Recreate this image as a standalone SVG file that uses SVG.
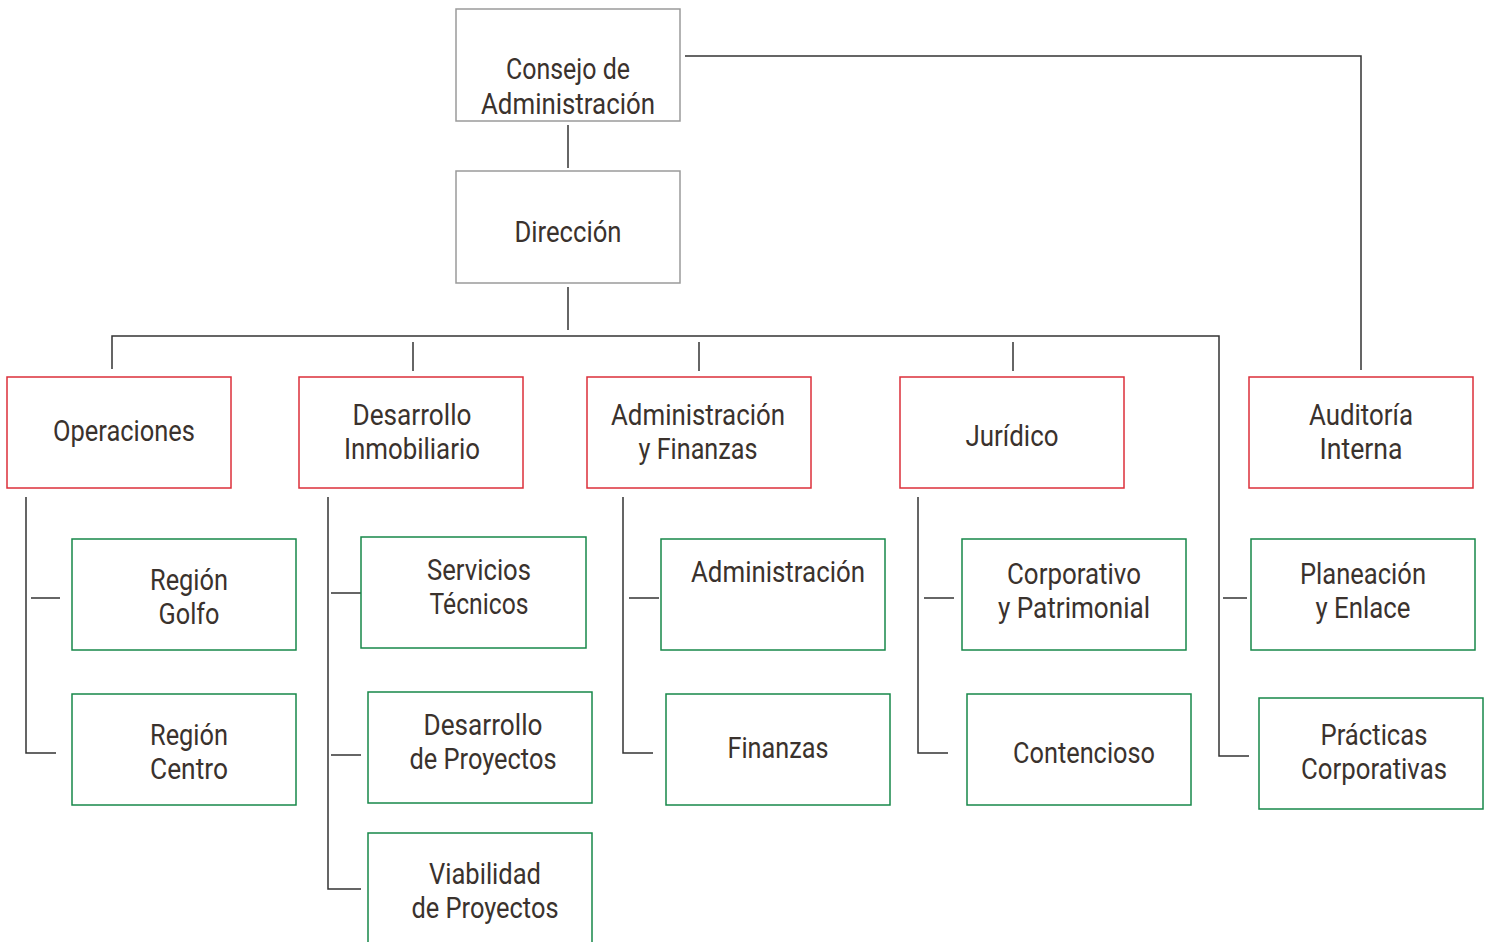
<svg xmlns="http://www.w3.org/2000/svg" width="1492" height="942" viewBox="0 0 1492 942">
<style>
.box{fill:#fff;stroke-width:1.5}
.g{stroke:#9a9a9a}
.r{stroke:#dc2f3a}
.v{stroke:#17884a}
text{font-family:Roboto,"Liberation Sans",sans-serif;font-size:29px;fill:#3a322d;text-anchor:middle}
.c path{fill:none;stroke:#333;stroke-width:1.5}
</style>
<rect width="1492" height="942" fill="#fff"/>
<g class="c" id="connectors">
<path d="M568 125V168"/>
<path d="M568 287V330"/>
<path d="M112 369V336H1219V756H1249"/>
<path d="M413 342V371"/>
<path d="M699 342V371"/>
<path d="M1013 342V371"/>
<path d="M685 56H1361V370"/>
<path d="M26 497V753H56"/>
<path d="M31 598H60"/>
<path d="M328 497V889H361"/>
<path d="M331 593H361"/>
<path d="M331 755H361"/>
<path d="M623 497V753H653"/>
<path d="M629 598H659"/>
<path d="M918 497V753H948"/>
<path d="M924 598H954"/>
<path d="M1223 598H1247"/>
</g>
<g id="consejo"><rect class="box g" x="456" y="9" width="224" height="112"/><text x="568" y="79" textLength="124" lengthAdjust="spacingAndGlyphs">Consejo de</text><text x="568" y="114" textLength="174" lengthAdjust="spacingAndGlyphs">Administración</text></g>
<g id="direccion"><rect class="box g" x="456" y="171" width="224" height="112"/><text x="568" y="242" textLength="107" lengthAdjust="spacingAndGlyphs">Dirección</text></g>
<g id="operaciones"><rect class="box r" x="7" y="377" width="224" height="111"/><text x="124" y="441" textLength="142" lengthAdjust="spacingAndGlyphs">Operaciones</text></g>
<g id="desarrollo-inmobiliario"><rect class="box r" x="299" y="377" width="224" height="111"/><text x="412" y="425" textLength="119" lengthAdjust="spacingAndGlyphs">Desarrollo</text><text x="412" y="459" textLength="136" lengthAdjust="spacingAndGlyphs">Inmobiliario</text></g>
<g id="admin-finanzas"><rect class="box r" x="587" y="377" width="224" height="111"/><text x="698" y="425" textLength="174" lengthAdjust="spacingAndGlyphs">Administración</text><text x="698" y="459" textLength="119" lengthAdjust="spacingAndGlyphs">y Finanzas</text></g>
<g id="juridico"><rect class="box r" x="900" y="377" width="224" height="111"/><text x="1012" y="446" textLength="93" lengthAdjust="spacingAndGlyphs">Jurídico</text></g>
<g id="auditoria"><rect class="box r" x="1249" y="377" width="224" height="111"/><text x="1361" y="425" textLength="104" lengthAdjust="spacingAndGlyphs">Auditoría</text><text x="1361" y="459" textLength="83" lengthAdjust="spacingAndGlyphs">Interna</text></g>
<g id="region-golfo"><rect class="box v" x="72" y="539" width="224" height="111"/><text x="189" y="590" textLength="78" lengthAdjust="spacingAndGlyphs">Región</text><text x="189" y="624" textLength="61" lengthAdjust="spacingAndGlyphs">Golfo</text></g>
<g id="region-centro"><rect class="box v" x="72" y="694" width="224" height="111"/><text x="189" y="745" textLength="78" lengthAdjust="spacingAndGlyphs">Región</text><text x="189" y="779" textLength="78" lengthAdjust="spacingAndGlyphs">Centro</text></g>
<g id="servicios-tecnicos"><rect class="box v" x="361" y="537" width="225" height="111"/><text x="479" y="580" textLength="104" lengthAdjust="spacingAndGlyphs">Servicios</text><text x="479" y="614" textLength="99" lengthAdjust="spacingAndGlyphs">Técnicos</text></g>
<g id="desarrollo-proyectos"><rect class="box v" x="368" y="692" width="224" height="111"/><text x="483" y="735" textLength="119" lengthAdjust="spacingAndGlyphs">Desarrollo</text><text x="483" y="769" textLength="147" lengthAdjust="spacingAndGlyphs">de Proyectos</text></g>
<g id="viabilidad"><path class="box v" d="M368 945V833H592V945"/><text x="485" y="884" textLength="112" lengthAdjust="spacingAndGlyphs">Viabilidad</text><text x="485" y="918" textLength="147" lengthAdjust="spacingAndGlyphs">de Proyectos</text></g>
<g id="administracion"><rect class="box v" x="661" y="539" width="224" height="111"/><text x="778" y="582" textLength="174" lengthAdjust="spacingAndGlyphs">Administración</text></g>
<g id="finanzas"><rect class="box v" x="666" y="694" width="224" height="111"/><text x="778" y="758" textLength="101" lengthAdjust="spacingAndGlyphs">Finanzas</text></g>
<g id="corporativo-patrimonial"><rect class="box v" x="962" y="539" width="224" height="111"/><text x="1074" y="584" textLength="134" lengthAdjust="spacingAndGlyphs">Corporativo</text><text x="1074" y="618" textLength="152" lengthAdjust="spacingAndGlyphs">y Patrimonial</text></g>
<g id="contencioso"><rect class="box v" x="967" y="694" width="224" height="111"/><text x="1084" y="763" textLength="142" lengthAdjust="spacingAndGlyphs">Contencioso</text></g>
<g id="planeacion-enlace"><rect class="box v" x="1251" y="539" width="224" height="111"/><text x="1363" y="584" textLength="126" lengthAdjust="spacingAndGlyphs">Planeación</text><text x="1363" y="618" textLength="95" lengthAdjust="spacingAndGlyphs">y Enlace</text></g>
<g id="practicas-corporativas"><rect class="box v" x="1259" y="698" width="224" height="111"/><text x="1374" y="745" textLength="107" lengthAdjust="spacingAndGlyphs">Prácticas</text><text x="1374" y="779" textLength="146" lengthAdjust="spacingAndGlyphs">Corporativas</text></g>
</svg>
